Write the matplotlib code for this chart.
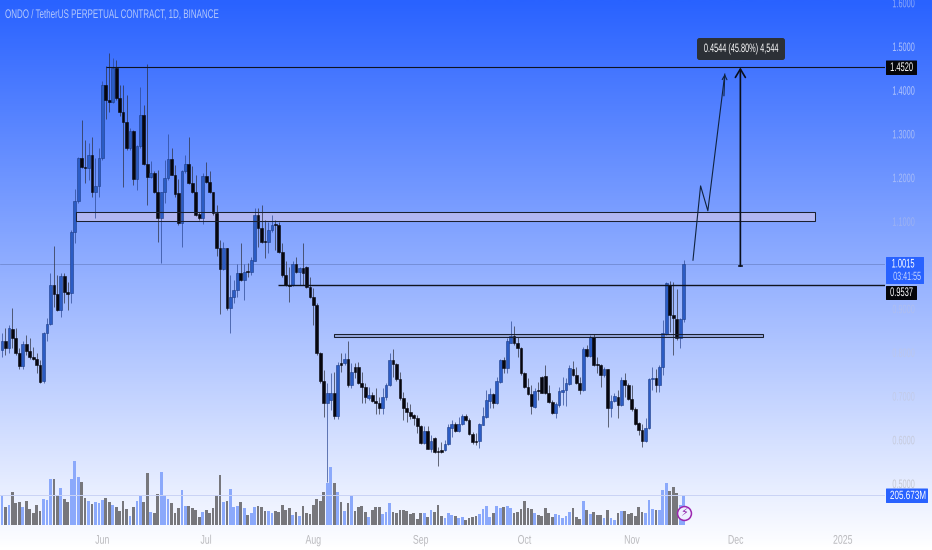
import numpy as np
import matplotlib
matplotlib.use('Agg')
import matplotlib.pyplot as plt
import matplotlib.patheffects as pe
from matplotlib.colors import LinearSegmentedColormap
from matplotlib.patches import Rectangle, FancyBboxPatch
from matplotlib.transforms import Affine2D, IdentityTransform

plt.rcParams['font.family'] = ['Liberation Sans', 'DejaVu Sans']

title = 'ONDO / TetherUS PERPETUAL CONTRACT, 1D, BINANCE'

# daily candles, first one is 3 May 2024
opens = [.805,.825,.809,.853,.832,.798,.769,.819,.804,.790,.786,.771,.735,.844,.866,.954,.934,.898,.975,.939,
         .935,1.075,1.146,1.245,1.225,1.221,1.251,1.166,1.181,1.244,1.412,1.378,1.372,1.450,1.381,1.351,1.328,1.267,1.307,1.197,
         1.272,1.343,1.231,1.201,1.211,1.166,1.108,1.166,1.198,1.243,1.207,1.164,1.097,1.214,1.231,1.187,1.166,1.117,1.107,1.204,
         1.191,1.166,1.118,1.038,.990,1.038,.901,.927,.943,.981,.966,.987,.983,1.010,1.114,1.084,1.055,1.053,1.079,1.093,
         1.091,1.030,.977,.954,.954,1.002,.983,.992,.995,.950,.927,.908,.798,.734,.685,.691,.708,.654,.775,.775,
         .786,.725,.766,.766,.731,.720,.695,.702,.689,.685,.672,.699,.725,.783,.773,.738,.695,.672,.664,.657,
         .651,.631,.592,.621,.580,.603,.575,.576,.576,.590,.628,.637,.620,.636,.654,.645,.613,.597,.597,.634,
         .653,.689,.705,.685,.733,.783,.765,.822,.837,.822,.809,.752,.721,.705,.676,.714,.744,.746,.708,.687,
         .662,.680,.710,.714,.728,.763,.748,.731,.714,.808,.792,.836,.773,.770,.748,.761,.673,.689,.699,.680,
         .737,.725,.693,.670,.639,.622,.598,.626,.738,.741,.725,.767,.841,.954,.885,.876,.832,.876]
highs = [.844,.855,.863,.901,.855,.809,.825,.840,.832,.813,.798,.783,.847,.878,.981,1.043,.977,.981,.981,.962,
         1.080,1.173,1.248,1.332,1.286,1.280,1.292,1.244,1.267,1.420,1.455,1.486,1.473,1.469,1.412,1.412,1.389,1.313,1.309,1.275,
         1.408,1.366,1.460,1.239,1.216,1.217,1.168,1.240,1.300,1.267,1.229,1.196,1.217,1.252,1.292,1.227,1.206,1.122,1.210,1.235,
         1.214,1.168,1.137,1.057,1.053,1.040,.977,.966,1.002,1.050,1.002,1.004,1.019,1.130,1.130,1.137,1.103,1.099,1.114,1.103,
         1.099,1.050,1.008,.996,1.008,1.019,.996,1.050,.998,.972,.947,.912,.802,.760,.729,.752,.756,.779,.798,.798,
         .825,.775,.775,.779,.756,.729,.721,.710,.718,.699,.718,.729,.798,.807,.776,.756,.710,.687,.683,.660,
         .657,.634,.631,.631,.611,.607,.584,.596,.599,.637,.645,.641,.653,.660,.658,.649,.618,.615,.638,.676,
         .714,.718,.706,.744,.786,.789,.832,.872,.860,.836,.813,.756,.741,.725,.718,.733,.746,.771,.725,.691,
         .687,.721,.744,.741,.771,.781,.767,.743,.813,.817,.840,.842,.790,.773,.767,.763,.702,.706,.714,.744,
         .753,.729,.725,.674,.641,.637,.649,.741,.767,.763,.771,.875,.960,.964,.962,.946,.878,1.011]
lows = [.790,.794,.798,.809,.794,.763,.763,.794,.784,.783,.752,.729,.731,.825,.863,.905,.895,.880,.912,.897,
        .912,1.050,1.141,1.221,1.187,1.195,1.156,1.107,1.156,1.240,1.333,1.351,1.370,1.378,1.340,1.179,1.263,1.263,1.183,1.172,
        1.267,1.229,1.137,1.198,1.164,1.053,1.005,1.141,1.195,1.206,1.156,1.092,1.042,1.211,1.185,1.164,1.111,1.103,1.094,1.187,
        1.164,1.114,1.021,.888,.988,.897,.845,.912,.927,.964,.920,.973,.977,1.008,1.042,1.050,1.015,1.027,1.076,1.034,
        1.027,.973,.952,.916,.952,.981,.954,.954,.947,.924,.863,.794,.729,.653,.504,.668,.647,.647,.756,.771,
        .721,.718,.741,.728,.685,.685,.691,.687,.659,.659,.660,.691,.723,.744,.735,.692,.645,.641,.647,.634,
        .615,.590,.590,.578,.573,.569,.540,.570,.575,.588,.607,.618,.618,.634,.644,.611,.590,.588,.582,.633,
        .651,.672,.672,.683,.731,.753,.753,.821,.817,.790,.748,.719,.702,.658,.672,.691,.706,.705,.685,.659,
        .649,.676,.680,.677,.725,.746,.728,.705,.712,.790,.790,.769,.753,.721,.743,.630,.653,.687,.649,.677,
        .699,.691,.667,.634,.611,.583,.596,.625,.714,.710,.710,.748,.840,.847,.794,.828,.811,.870]
closes = [.825,.809,.855,.832,.798,.769,.819,.804,.789,.784,.771,.733,.844,.866,.954,.934,.898,.975,.939,.934,
          1.076,1.146,1.245,1.224,1.223,1.251,1.168,1.181,1.245,1.412,1.378,1.372,1.450,1.381,1.351,1.328,1.267,1.307,1.197,1.272,
          1.343,1.231,1.201,1.210,1.166,1.107,1.166,1.198,1.243,1.207,1.162,1.097,1.214,1.231,1.187,1.166,1.114,1.107,1.204,1.191,
          1.166,1.118,1.038,.990,1.038,.901,.927,.943,.981,.966,.985,.983,1.011,1.114,1.084,1.053,1.052,1.079,1.092,1.091,
          1.030,.977,.954,.953,1.002,.983,.992,.981,.950,.927,.908,.798,.735,.685,.708,.708,.654,.771,.771,.784,
          .725,.756,.756,.731,.720,.697,.702,.689,.685,.672,.699,.725,.783,.773,.738,.695,.672,.664,.654,.651,
          .631,.592,.621,.580,.598,.571,.571,.572,.590,.630,.637,.620,.637,.654,.645,.613,.596,.594,.636,.654,
          .691,.705,.685,.734,.783,.765,.825,.837,.822,.809,.752,.721,.705,.677,.711,.711,.708,.706,.687,.662,
          .682,.711,.715,.729,.765,.748,.729,.714,.808,.792,.836,.771,.770,.748,.761,.673,.689,.700,.680,.737,
          .725,.693,.670,.637,.622,.598,.626,.738,.741,.725,.767,.844,.958,.885,.878,.834,.876,1.0015]
# volume in millions
volumes = [199,126,137,229,149,155,126,165,110,80,137,98,178,171,315,318,208,251,178,155,
           313,441,331,297,185,162,144,158,153,171,185,155,135,121,96,165,110,64,121,165,
           199,155,354,89,85,213,363,208,181,151,85,114,240,130,130,117,105,55,91,101,
           80,119,203,343,155,165,244,126,130,155,117,71,80,121,130,126,98,94,85,96,
           91,139,101,119,71,87,64,128,80,75,135,181,165,224,286,398,286,226,158,96,
           153,199,96,123,130,91,57,103,126,121,73,91,149,91,80,103,101,96,73,80,
           41,80,80,57,103,87,137,64,46,85,69,64,46,57,34,50,57,62,75,110,
           130,57,80,133,119,126,133,119,85,91,107,167,114,107,80,69,64,119,80,57,
           73,69,46,64,91,114,57,39,165,103,75,91,69,69,50,103,46,34,85,96,
           96,73,80,64,121,87,80,171,110,103,103,240,286,235,263,217,137,205.673]

price_ticks = [1.6, 1.5, 1.4, 1.3, 1.2, 1.1, 1.0, 0.9, 0.8, 0.7, 0.6, 0.5]
tick_days = [29, 59, 90, 121, 151, 182, 212, 243]
tick_names = ['Jun', 'Jul', 'Aug', 'Sep', 'Oct', 'Nov', 'Dec', '2025']

target_price = 1.4520
level_price = 0.9537
last_price = 1.0015
last_volume = 205.673
measure_base = 0.9976

zone_upper = (21.4, 235.0, 1.1018, 1.1224)
zone_lower = (96.0, 220.0, 0.8350, 0.8420)
path_days = [199.7, 201.9, 204.0, 208.9]
path_prices = [1.011, 1.181, 1.124, 1.437]

W, H = 932, 550


class Squeeze(pe.AbstractPathEffect):
    # the chart font is a narrow one, none is installed, so squeeze the glyphs sideways
    def __init__(self, sx, center=False):
        super().__init__()
        self.sx = sx
        self.center = center

    def draw_path(self, renderer, gc, tpath, affine, rgbFace=None):
        cx = 0
        if self.center:
            cx = tpath.get_extents().x0 + tpath.get_extents().width / 2
        squeeze = Affine2D().translate(-cx, 0).scale(self.sx, 1).translate(cx, 0)
        renderer.draw_path(gc, tpath, squeeze + affine, rgbFace)


fig = plt.figure(figsize=(W / 100, H / 100), dpi=100)

# blue to white backdrop over the whole figure
bg = fig.add_axes([0, 0, 1, 1], zorder=0)
cmap = LinearSegmentedColormap.from_list('bg', ['#2962ff', '#ffffff'])
bg.imshow(np.linspace(0, 1, 540).reshape(-1, 1), aspect='auto', cmap=cmap, extent=(0, 1, 0, 1))
bg.axis('off')

ax = fig.add_axes([0, 1 - 525 / H, 885 / W, 525 / H], zorder=2)
ax.patch.set_alpha(0)
ax.set_xlim(-0.58, 255.2)
ax.set_ylim(0.4050, 1.6064)

vol = ax.twinx()
vol.set_ylim(0, 3600)
vol.axis('off')
vol.set_zorder(1)
ax.set_zorder(2)

days = np.arange(len(closes))
opens = np.array(opens)
closes = np.array(closes)
highs = np.array(highs)
lows = np.array(lows)
up = closes >= opens

vol_colors = np.where(up, '#8ba9fb', '#77777c')
vol.bar(days, volumes, width=0.8, color=vol_colors, linewidth=0)

wick_colors = np.where(up, '#2a4690', '#2a2d3a')
ax.vlines(days, lows, highs, colors=wick_colors, linewidth=0.7, alpha=0.7, zorder=3)
body_colors = np.where(up, '#2b5cc4', '#07070f')
edge_colors = np.where(up, '#1d3c86', '#07070f')
ax.bar(days, np.abs(closes - opens), bottom=np.minimum(opens, closes), width=0.8,
       color=body_colors, edgecolor=edge_colors, linewidth=0.4, zorder=4)

# thin price lines
ax.axhline(last_price, color='#4a5f9c', linewidth=0.5, alpha=0.55, zorder=2)
vol.axhline(last_volume, color='#c9d3f5', linewidth=0.7)

# drawn levels
ax.hlines(target_price, 30, 255.2, color='#10141f', linewidth=0.8, zorder=5)
ax.hlines(level_price, 79.8, 255.2, color='#10141f', linewidth=1.0, zorder=5)
for z0, z1, p0, p1, fill in [zone_upper + ('#c3bff0',), zone_lower + ('#8f9fd0',)]:
    ax.add_patch(Rectangle((z0, p0), z1 - z0, p1 - p0, facecolor=fill, edgecolor='none', alpha=0.75, zorder=2.5))
    ax.add_patch(Rectangle((z0, p0), z1 - z0, p1 - p0, fill=False, edgecolor='#1a2030', linewidth=0.75, zorder=5))

# projected path
ax.plot(path_days, path_prices, color='#10233f', linewidth=0.8, zorder=6)
ax.annotate('', xy=(path_days[-1], path_prices[-1]), xytext=(path_days[-1] - 0.25, path_prices[-1] - 0.05),
            arrowprops=dict(arrowstyle='->,head_width=0.17,head_length=0.32', color='#10233f', linewidth=0.8,
                            shrinkA=0, shrinkB=0), zorder=6)

# price range measure
ax.annotate('', xy=(213.4, target_price), xytext=(213.4, measure_base),
            arrowprops=dict(arrowstyle='->,head_width=0.36,head_length=0.6', color='#0a0f1c', linewidth=1.2,
                            shrinkA=0, shrinkB=0), zorder=7)
ax.plot([212.9, 213.9], [measure_base, measure_base], color='#0a0f1c', linewidth=1.2, zorder=7)

# alert icon
ax.plot([197], [0.4325], marker='o', markersize=10, markerfacecolor='#eef0ff', markeredgecolor='#9c27b0',
        markeredgewidth=1.1, zorder=8, clip_on=False)
ax.text(197, 0.4325, '\u26a1', color='#8e24aa', fontsize=8, ha='center', va='center', family='DejaVu Sans', zorder=9)

# axes
for s in ax.spines.values():
    s.set_visible(False)
ax.yaxis.tick_right()
ax.set_yticks(price_ticks)
ax.set_yticklabels(['%.4f' % p for p in price_ticks])
ax.tick_params(axis='y', length=0, pad=5.3, labelsize=8.8)
ax.set_xticks(tick_days)
ax.set_xticklabels(tick_names)
ax.tick_params(axis='x', length=0, pad=7, labelsize=9, labelcolor='#b9b9bd')
y_colors = ['#8eaaf8', '#aec2fb', '#b4c6fb', '#a8bcf7', '#a8bcf8', '#9db2f2', '#a9bbf0', '#b0bfef',
            '#bcc7ec', '#c2cbe8', '#c6cbdc', '#c4c7d2']
for lab, c in zip(ax.get_yticklabels(), y_colors):
    lab.set_color(c)
    lab.set_path_effects([Squeeze(0.6)])
for lab in ax.get_xticklabels():
    lab.set_path_effects([Squeeze(0.7, center=True)])


def tag(x0, y0, x1, y1, color, rounding=0.5):
    # flat label box, corners given in picture pixels
    fig.add_artist(FancyBboxPatch((x0, H - y1), x1 - x0, y1 - y0, boxstyle='round,pad=0,rounding_size=%g' % rounding,
                                  facecolor=color, edgecolor='none', transform=IdentityTransform(), zorder=5))


def tag_text(x, y, s, color='white', size=9, sx=0.6):
    t = fig.text(x / W, 1 - y / H, s, color=color, fontsize=size, ha='center', va='center', zorder=6)
    t.set_path_effects([Squeeze(sx, center=True)])


tag(886, 60.5, 917, 75, '#05060a')
tag_text(901.5, 68, '1.4520')
tag(886, 286, 917, 300, '#05060a')
tag_text(901.5, 293, '0.9537')
tag(886, 257, 924, 284, '#2962ff')
tag_text(903, 264.5, '1.0015')
tag_text(907, 277, '03:41:55', color='#c5d5ff', size=8.6)
tag(886, 488.5, 928, 503, '#2962ff')
tag_text(908, 496, '205.673M', size=8.6, sx=0.68)
tag(697, 38, 785, 60, '#2c3036', rounding=2.5)
tag_text(741, 49, '0.4544 (45.80%) 4,544', size=8.8, sx=0.6)

t = fig.text(5 / W, 1 - 15 / H, title, color='#b4c8fb', fontsize=9, va='center', ha='left', zorder=5)
t.set_path_effects([Squeeze(0.64)])

fig.savefig('out.png', dpi=100)
